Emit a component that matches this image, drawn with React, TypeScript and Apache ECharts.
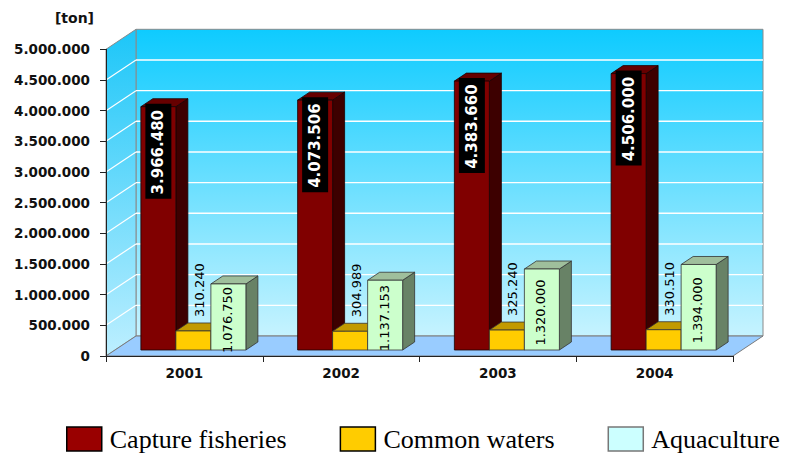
import React, { useEffect, useRef } from "react";
import * as echarts from "echarts";

const categories = ["2001", "2002", "2003", "2004"];
const captureFisheries = [3966480, 4073506, 4383660, 4506000];
const commonWaters = [310240, 304989, 325240, 330510];
const aquaculture = [1076750, 1137153, 1320000, 1394000];
const yMax = 5000000;
const yStep = 500000;
const unitLabel = "[ton]";

// depth of the floor (screen offset of the back plane)
const DX = 30;
const DY = -20;
// bars sit in the middle of the floor depth
const SHIFT_X = DX * 0.3;
const SHIFT_Y = DY * 0.3;
const BDX = DX * 0.4;
const BDY = DY * 0.4;

const fmt = (v: number) => String(v).replace(/\B(?=(\d{3})+(?!\d))/g, ".");

type BarStyle = {
  front: string;
  top: string;
  side: string;
  stroke: string;
};

const barStyles: BarStyle[] = [
  { front: "#800000", top: "#660000", side: "#3d0000", stroke: "#1a0000" },
  { front: "#ffcc00", top: "#c29a00", side: "#9a7a00", stroke: "#333" },
  { front: "#ccffcc", top: "#9fbf9c", side: "#688266", stroke: "#333" },
];

function makeBarRenderer(slot: number) {
  const st = barStyles[slot];
  return (params: any, api: any) => {
    const cat = api.value(0);
    const val = api.value(1);
    const base = api.coord([cat, 0]);
    const tip = api.coord([cat, val]);
    const band = api.size([1, 0])[0];
    const w = band * 0.2233;
    const left = base[0] + SHIFT_X - 1.5 * w + slot * w;
    const bottomY = base[1] + SHIFT_Y;
    const topY = tip[1] + SHIFT_Y;
    const children: any[] = [
      {
        type: "polygon",
        shape: {
          points: [
            [left + w, topY],
            [left + w + BDX, topY + BDY],
            [left + w + BDX, bottomY + BDY],
            [left + w, bottomY],
          ],
        },
        style: { fill: st.side, stroke: st.stroke, lineWidth: 0.8 },
      },
      {
        type: "polygon",
        shape: {
          points: [
            [left, topY],
            [left + BDX, topY + BDY],
            [left + w + BDX, topY + BDY],
            [left + w, topY],
          ],
        },
        style: { fill: st.top, stroke: st.stroke, lineWidth: 0.8 },
      },
      {
        type: "rect",
        shape: { x: left, y: topY, width: w, height: bottomY - topY },
        style: { fill: st.front, stroke: st.stroke, lineWidth: 0.8 },
      },
    ];
    const cx = left + w / 2;
    if (slot === 0) {
      const boxH = 95;
      const boxW = 26;
      const boxTop = topY - 3;
      children.push({
        type: "rect",
        shape: { x: cx - boxW / 2, y: boxTop, width: boxW, height: boxH },
        style: { fill: "#000" },
      });
      children.push({
        type: "text",
        x: cx,
        y: boxTop + boxH / 2 + 1,
        rotation: Math.PI / 2,
        style: {
          text: fmt(val),
          fill: "#fff",
          fontFamily: "DejaVu Sans",
          fontWeight: "bold",
          fontSize: 15,
          align: "center",
          verticalAlign: "middle",
        },
      });
    } else if (slot === 1) {
      children.push({
        type: "text",
        x: cx + BDX / 2,
        y: topY + BDY - 6,
        rotation: Math.PI / 2,
        style: {
          text: fmt(val),
          fill: "#000",
          fontFamily: "DejaVu Sans",
          fontSize: 13,
          align: "left",
          verticalAlign: "middle",
        },
      });
    } else {
      children.push({
        type: "text",
        x: cx - 1,
        y: (topY + bottomY) / 2 + 3,
        rotation: Math.PI / 2,
        style: {
          text: fmt(val),
          fill: "#000",
          fontFamily: "DejaVu Sans",
          fontSize: 13,
          align: "center",
          verticalAlign: "middle",
        },
      });
    }
    return { type: "group", children };
  };
}

function renderWalls(params: any, api: any) {
  const cs = params.coordSys;
  const x0 = cs.x;
  const x1 = cs.x + cs.width;
  const y0 = api.coord([0, 0])[1];
  const yTop = api.coord([0, yMax])[1];
  const wallGrad = new echarts.graphic.LinearGradient(0, 0, 0, 1, [
    { offset: 0, color: "#0ecbff" },
    { offset: 1, color: "#c6f3ff" },
  ]);
  const sideGrad = new echarts.graphic.LinearGradient(0, 0, 0, 1, [
    { offset: 0, color: "#1cc6f8" },
    { offset: 1, color: "#bdefff" },
  ]);
  const children: any[] = [
    {
      type: "rect",
      shape: { x: x0 + DX, y: yTop + DY, width: x1 - x0, height: y0 - yTop },
      style: { fill: wallGrad, stroke: "#8a8a8a", lineWidth: 1 },
    },
    {
      type: "polygon",
      shape: {
        points: [
          [x0, yTop],
          [x0 + DX, yTop + DY],
          [x0 + DX, y0 + DY],
          [x0, y0],
        ],
      },
      style: { fill: sideGrad, stroke: "#8a8a8a", lineWidth: 1 },
    },
  ];
  for (let v = yStep; v < yMax; v += yStep) {
    const y = api.coord([0, v])[1];
    children.push({
      type: "line",
      shape: { x1: x0 + DX, y1: y + DY, x2: x1 + DX, y2: y + DY },
      style: { stroke: "#ffffff", lineWidth: 1.4 },
    });
    children.push({
      type: "line",
      shape: { x1: x0, y1: y, x2: x0 + DX, y2: y + DY },
      style: { stroke: "#ffffff", lineWidth: 1.2 },
    });
  }
  children.push({
    type: "polygon",
    shape: {
      points: [
        [x0, y0],
        [x0 + DX, y0 + DY],
        [x1 + DX, y0 + DY],
        [x1, y0],
      ],
    },
    style: { fill: "#99ccff", stroke: "#7a7a7a", lineWidth: 1 },
  });
  return { type: "group", children };
}

export default function App() {
  const ref = useRef<HTMLDivElement>(null);

  useEffect(() => {
    document.body.style.margin = "0";
    if (!ref.current) return;
    const chart = echarts.init(ref.current, undefined, { renderer: "svg" });
    const barSeries = [
      { name: "Capture fisheries", values: captureFisheries, color: "#990000" },
      { name: "Common waters", values: commonWaters, color: "#ffcc00" },
      { name: "Aquaculture", values: aquaculture, color: "#ccffff" },
    ];
    chart.setOption({
      animation: false,
      backgroundColor: "#ffffff",
      grid: { left: 106, top: 49.3, width: 627, height: 306.7, containLabel: false },
      xAxis: {
        type: "category",
        data: categories,
        boundaryGap: true,
        axisLine: { show: true, lineStyle: { color: "#222", width: 1 } },
        axisTick: { show: true, length: 6, lineStyle: { color: "#222" } },
        axisLabel: {
          margin: 10,
          color: "#111",
          fontFamily: "DejaVu Sans",
          fontWeight: "bold",
          fontSize: 13.5,
        },
        splitLine: { show: false },
      },
      yAxis: {
        type: "value",
        min: 0,
        max: yMax,
        interval: yStep,
        name: unitLabel,
        nameLocation: "end",
        nameGap: 24,
        nameTextStyle: {
          align: "right",
          verticalAlign: "bottom",
          padding: [0, 12, 0, 0],
          color: "#111",
          fontFamily: "DejaVu Sans",
          fontWeight: "bold",
          fontSize: 14,
        },
        axisLine: { show: true, lineStyle: { color: "#222", width: 1 } },
        axisTick: { show: true, length: 6, lineStyle: { color: "#222" } },
        axisLabel: {
          margin: 16,
          color: "#111",
          fontFamily: "DejaVu Sans",
          fontWeight: "bold",
          fontSize: 13.5,
          formatter: (v: number) => fmt(v),
        },
        splitLine: { show: false },
      },
      legend: {
        top: 421,
        left: 61,
        icon: "rect",
        itemWidth: 35,
        itemHeight: 24,
        itemGap: 53,
        textStyle: {
          fontFamily: "Liberation Serif",
          fontSize: 26,
          color: "#000",
          padding: [0, 0, 0, 3],
        },
        data: [
          { name: "Capture fisheries", itemStyle: { color: "#990000", borderColor: "#000", borderWidth: 1.5 } },
          { name: "Common waters", itemStyle: { color: "#ffcc00", borderColor: "#000", borderWidth: 1.5 } },
          { name: "Aquaculture", itemStyle: { color: "#ccffff", borderColor: "#777", borderWidth: 1.5 } },
        ],
      },
      series: [
        {
          type: "custom",
          name: "walls",
          z: -1,
          silent: true,
          renderItem: renderWalls,
          data: [[0, 0]],
          encode: { x: 0, y: 1 },
        },
        ...barSeries.map((s, slot) => ({
          type: "custom",
          name: s.name,
          itemStyle: { color: s.color },
          renderItem: makeBarRenderer(slot),
          encode: { x: 0, y: 1 },
          data: s.values.map((v, i) => [i, v]),
        })),
      ],
    });
    return () => chart.dispose();
  }, []);

  return <div ref={ref} style={{ width: 786, height: 454 }} />;
}
